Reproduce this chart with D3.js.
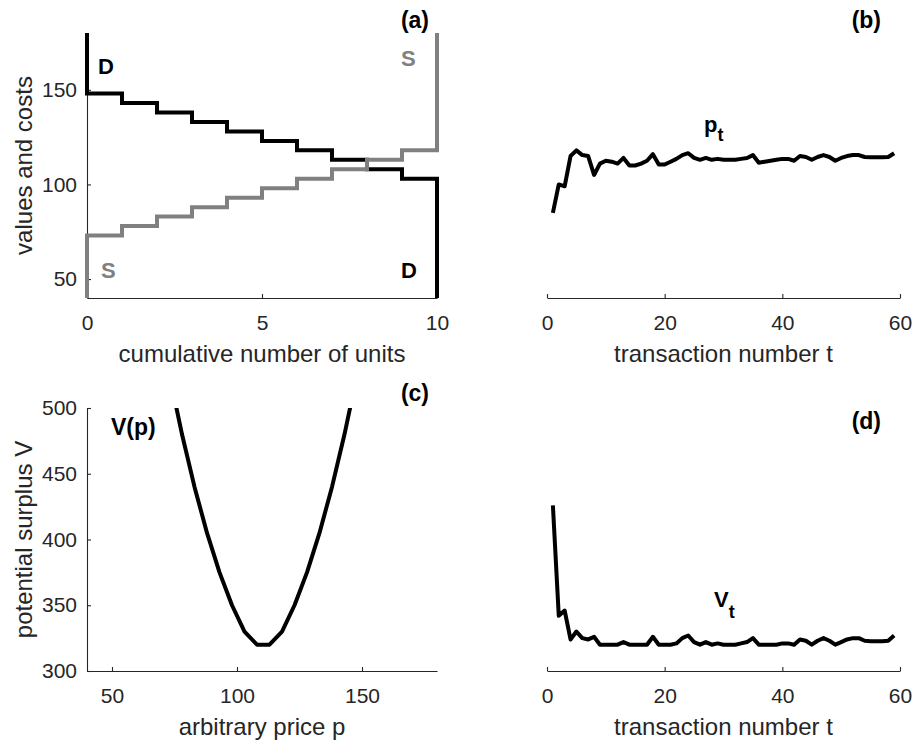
<!DOCTYPE html>
<html>
<head>
<meta charset="utf-8">
<script src="https://cdn.jsdelivr.net/npm/d3@7/dist/d3.min.js"></script>
<style>
  body { margin: 0; background: #fff; }
  text { font-family: "Liberation Sans", Arial, sans-serif; }
</style>
</head>
<body>
<svg id="chart" width="912" height="742"></svg>
<script>
// (a) unit values of buyers and costs of sellers
const units = [0, 1, 2, 3, 4, 5, 6, 7, 8, 9, 10];
const demandValues = [148, 143, 138, 133, 128, 123, 118, 113, 108, 103];
const supplyCosts = [73, 78, 83, 88, 93, 98, 103, 108, 113, 118];

// (b) transaction prices, t = 1..59
const prices = [85, 100, 99, 115, 118, 115.5, 115, 105, 111, 112.5,
  112, 111, 114, 110, 110, 111, 112.5, 116, 110.5, 110.5,
  112, 113.5, 115.5, 116.5, 114, 113, 114, 113, 113.5, 113,
  113, 113, 113.5, 114, 115.5, 111.5, 112, 112.5, 113, 113.5,
  113.5, 112.5, 115, 114.5, 113, 114.5, 115.5, 114.5, 112.5, 114,
  115, 115.5, 115.5, 114.5, 114.3, 114.3, 114.3, 114.5, 116.5];

// (c) potential surplus against an arbitrary price
const trialPrices = [73, 78, 83, 88, 93, 98, 103, 108, 113, 118, 123, 128, 133, 138, 143, 148];
const surplusCurve = [525, 480, 440, 405, 375, 350, 330, 320, 320, 330, 350, 375, 405, 440, 480, 525];

// (d) potential surplus at each transaction
const surplusT = [426, 342, 346, 324, 330, 325, 324, 326, 320, 320,
  320, 320, 322, 320, 320, 320, 320, 326, 320, 320,
  320, 321, 325, 327, 322, 320, 322, 320, 321, 320,
  320, 320, 321, 322, 325, 320, 320, 320, 320, 321,
  321, 320, 324, 323, 320, 323, 325, 323, 320, 322,
  324, 325, 325, 323, 322.6, 322.6, 322.6, 323, 327];

const svg = d3.select("#chart");
const ink = "#262626";

const box = {
  a: { left: 87, right: 437, top: 33, bottom: 298 },
  b: { left: 547, right: 900, top: 33, bottom: 298 },
  c: { left: 87, right: 437, top: 408, bottom: 671 },
  d: { left: 547, right: 900, top: 408, bottom: 671 }
};

function styleAxis(g) {
  g.selectAll("path, line").attr("stroke", ink).attr("stroke-width", 1.1);
  g.selectAll("text").attr("fill", ink).attr("font-size", 21)
    .attr("font-family", "Liberation Sans, Arial, sans-serif");
  g.attr("font-size", null).attr("font-family", null);
}

function xAxis(p, x, ticks) {
  svg.append("g")
    .attr("transform", `translate(0,${p.bottom})`)
    .call(d3.axisBottom(x).tickValues(ticks).tickSizeInner(-4).tickSizeOuter(0).tickPadding(17))
    .call(styleAxis);
}

function yAxis(p, y, ticks) {
  svg.append("g")
    .attr("transform", `translate(${p.left},0)`)
    .call(d3.axisLeft(y).tickValues(ticks).tickSizeInner(-4).tickSizeOuter(0).tickPadding(10))
    .call(styleAxis);
}

function xLabel(p, txt) {
  svg.append("text")
    .attr("x", (p.left + p.right) / 2).attr("y", p.bottom + 64)
    .attr("text-anchor", "middle").attr("font-size", 24).attr("fill", ink)
    .text(txt);
}

function yLabel(p, txt) {
  svg.append("text")
    .attr("transform", `translate(32,${(p.top + p.bottom) / 2}) rotate(-90)`)
    .attr("text-anchor", "middle").attr("font-size", 24).attr("fill", ink)
    .text(txt);
}

function tag(x, y, txt, color, size) {
  return svg.append("text")
    .attr("x", x).attr("y", y)
    .attr("font-size", size || 22).attr("font-weight", "bold")
    .attr("fill", color || "#000")
    .text(txt);
}

// ---- (a)
const xa = d3.scaleLinear().domain([0, 10]).range([box.a.left, box.a.right]);
const ya = d3.scaleLinear().domain([40, 180]).range([box.a.bottom, box.a.top]);
xAxis(box.a, xa, [0, 5, 10]);
yAxis(box.a, ya, [50, 100, 150]);
xLabel(box.a, "cumulative number of units");
yLabel(box.a, "values and costs");

const stepLine = d3.line().x(d => xa(d[0])).y(d => ya(d[1]));

const demandPts = [[units[0], ya.domain()[1]]];
demandValues.forEach((v, i) => { demandPts.push([units[i], v], [units[i + 1], v]); });
demandPts.push([units[units.length - 1], ya.domain()[0]]);

const supplyPts = [[units[0], ya.domain()[0]]];
supplyCosts.forEach((c, i) => { supplyPts.push([units[i], c], [units[i + 1], c]); });
supplyPts.push([units[units.length - 1], ya.domain()[1]]);

svg.append("path").attr("d", stepLine(demandPts))
  .attr("fill", "none").attr("stroke", "#000").attr("stroke-width", 4);
svg.append("path").attr("d", stepLine(supplyPts))
  .attr("fill", "none").attr("stroke", "#808080").attr("stroke-width", 4);

tag(98, 74, "D");
tag(401, 278, "D");
tag(401, 66, "S", "#808080");
tag(101, 278, "S", "#808080");
tag(429, 28, "(a)", "#000", 23).attr("text-anchor", "end");

// ---- (b)
const xb = d3.scaleLinear().domain([0, 60]).range([box.b.left, box.b.right]);
const yb = d3.scaleLinear().domain([40, 180]).range([box.b.bottom, box.b.top]);
xAxis(box.b, xb, [0, 20, 40, 60]);
xLabel(box.b, "transaction number t");

svg.append("path")
  .attr("d", d3.line().x((d, i) => xb(i + 1)).y(d => yb(d))(prices))
  .attr("fill", "none").attr("stroke", "#000").attr("stroke-width", 4)
  .attr("stroke-linejoin", "round");

const pt = tag(704, 132, "p", "#000", 22);
pt.append("tspan").attr("dy", 9).attr("font-size", 18).text("t");
tag(881, 28, "(b)", "#000", 23).attr("text-anchor", "end");

// ---- (c)
const xc = d3.scaleLinear().domain([40, 180]).range([box.c.left, box.c.right]);
const yc = d3.scaleLinear().domain([300, 500]).range([box.c.bottom, box.c.top]);
xAxis(box.c, xc, [50, 100, 150]);
yAxis(box.c, yc, [300, 350, 400, 450, 500]);
xLabel(box.c, "arbitrary price p");
yLabel(box.c, "potential surplus V");

svg.append("clipPath").attr("id", "clipc")
  .append("rect")
  .attr("x", box.c.left).attr("y", box.c.top)
  .attr("width", box.c.right - box.c.left).attr("height", box.c.bottom - box.c.top);

svg.append("path")
  .attr("clip-path", "url(#clipc)")
  .attr("d", d3.line().x((d, i) => xc(trialPrices[i])).y(d => yc(d))(surplusCurve))
  .attr("fill", "none").attr("stroke", "#000").attr("stroke-width", 4)
  .attr("stroke-linejoin", "round");

tag(111, 435, "V(p)", "#000", 23);
tag(429, 401, "(c)", "#000", 23).attr("text-anchor", "end");

// ---- (d)
const xd = d3.scaleLinear().domain([0, 60]).range([box.d.left, box.d.right]);
const yd = d3.scaleLinear().domain([300, 500]).range([box.d.bottom, box.d.top]);
xAxis(box.d, xd, [0, 20, 40, 60]);
xLabel(box.d, "transaction number t");

svg.append("path")
  .attr("d", d3.line().x((d, i) => xd(i + 1)).y(d => yd(d))(surplusT))
  .attr("fill", "none").attr("stroke", "#000").attr("stroke-width", 4)
  .attr("stroke-linejoin", "round");

const vt = tag(714, 607, "V", "#000", 22);
vt.append("tspan").attr("dy", 11).attr("font-size", 18).text("t");
tag(881, 429, "(d)", "#000", 23).attr("text-anchor", "end");
</script>
</body>
</html>
